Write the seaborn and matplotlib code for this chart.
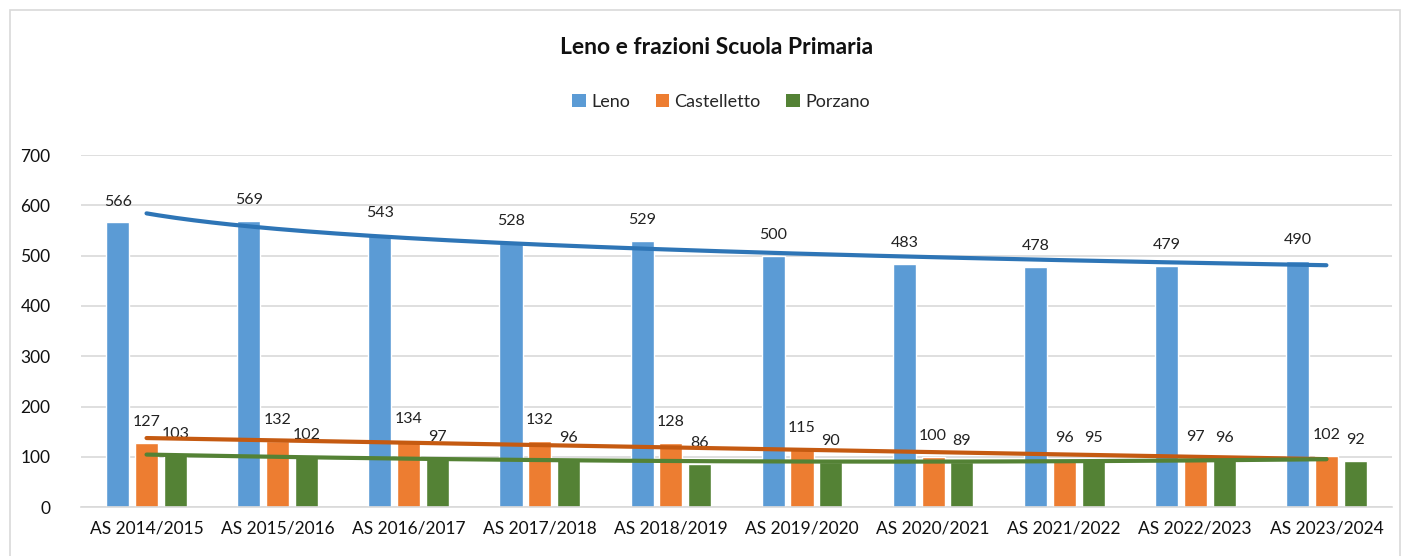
import numpy as np
import pandas as pd
import matplotlib
matplotlib.use("Agg")
import matplotlib.pyplot as plt
from matplotlib.patches import Patch, Rectangle
import seaborn as sns

years = ["AS 2014/2015", "AS 2015/2016", "AS 2016/2017", "AS 2017/2018", "AS 2018/2019",
         "AS 2019/2020", "AS 2020/2021", "AS 2021/2022", "AS 2022/2023", "AS 2023/2024"]
leno = [566, 569, 543, 528, 529, 500, 483, 478, 479, 490]
castelletto = [127, 132, 134, 132, 128, 115, 100, 96, 97, 102]
porzano = [103, 102, 97, 96, 86, 90, 89, 95, 96, 92]
series_names = ["Leno", "Castelletto", "Porzano"]
title = "Leno e frazioni Scuola Primaria"

bar_colors = ["#5B9BD5", "#ED7D31", "#548235"]
trend_colors = ["#2E75B6", "#C55A11", "#548235"]

sns.set_theme(style="white")
plt.rcParams["font.family"] = ["Lato", "DejaVu Sans"]

df = pd.DataFrame({
    "anno": years * 3,
    "valore": leno + castelletto + porzano,
    "serie": [series_names[0]] * len(years) + [series_names[1]] * len(years) + [series_names[2]] * len(years),
})

fig = plt.figure(figsize=(14.11, 5.56), dpi=100)
ax = fig.add_axes([0.0574, 0.088, 0.9291, 0.633])

sns.barplot(data=df, x="anno", y="valore", hue="serie", hue_order=series_names,
            palette=bar_colors, width=0.66, gap=0.2, ax=ax, legend=False,
            saturation=1, errorbar=None)

for cont in ax.containers:
    ax.bar_label(cont, fmt="%d", padding=10, fontsize=11.5, color="#222222")

# trend lines
x = np.arange(len(years))
xs = np.linspace(0, len(years) - 1, 200)
# Leno: logarithmic
b, a = np.polyfit(np.log(x + 1), leno, 1)
ax.plot(xs, a + b * np.log(xs + 1), color=trend_colors[0], lw=3, solid_capstyle="round", zorder=5)
# Castelletto: linear
p = np.polyfit(x, castelletto, 1)
ax.plot(xs, np.polyval(p, xs), color=trend_colors[1], lw=3, solid_capstyle="round", zorder=5)
# Porzano: polynomial
p = np.polyfit(x, porzano, 2)
ax.plot(xs, np.polyval(p, xs), color=trend_colors[2], lw=3, solid_capstyle="round", zorder=5)

ax.set_ylim(0, 700)
ax.set_yticks(range(0, 701, 100))
ax.set_xlim(-0.5, len(years) - 0.5)
ax.grid(axis="y", color="#D9D9D9", lw=1.2)
ax.set_axisbelow(True)
for s in ["top", "right", "left"]:
    ax.spines[s].set_visible(False)
ax.spines["bottom"].set_color("#D9D9D9")
ax.spines["bottom"].set_linewidth(1.2)
ax.tick_params(axis="both", length=0, labelsize=12.5, colors="#111111")
ax.tick_params(axis="x", pad=10)
ax.tick_params(axis="y", pad=22)
ax.set_xlabel("")
ax.set_ylabel("")

fig.text(0.508, 0.915, title, ha="center", va="center", fontsize=16.5, fontweight="bold", color="#111111")
handles = [Patch(facecolor=c, edgecolor="none") for c in bar_colors]
fig.legend(handles, series_names, loc="center", bbox_to_anchor=(0.511, 0.817), ncol=3,
           frameon=False, fontsize=13, handlelength=0.75, handleheight=0.75,
           handletextpad=0.3, columnspacing=1.4)

fig.patches.append(Rectangle((10 / 1411, -0.01), 1390 / 1411, 1 - 10 / 556 + 0.01,
                             transform=fig.transFigure, fill=False, edgecolor="#D9D9D9", lw=1.2))

fig.savefig("out.png", dpi=100, facecolor="white")
